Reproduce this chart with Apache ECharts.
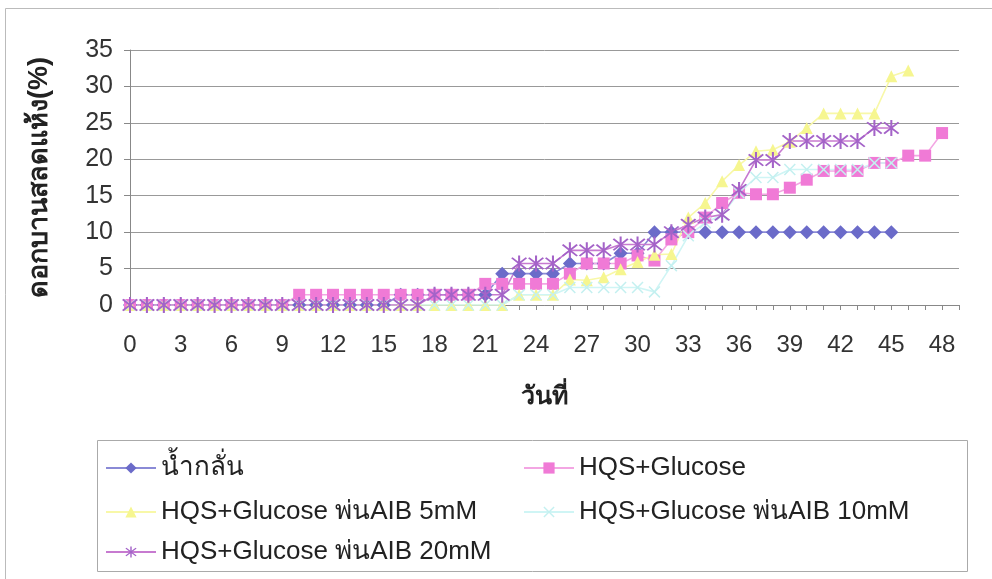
<!DOCTYPE html>
<html><head><meta charset="utf-8">
<script src="https://cdn.jsdelivr.net/npm/echarts@6/dist/echarts.min.js"></script>
<style>html,body{margin:0;padding:0;background:#fff}#c{width:992px;height:579px}</style>
</head><body><div id="c"></div>
<script>
const days = Array.from({length: 50}, (_, i) => String(i));
const xTickLabels = ['0','3','6','9','12','15','18','21','24','27','30','33','36','39','42','45','48'];
const seriesNames = ['น้ำกลั่น', 'HQS+Glucose', 'HQS+Glucose พ่นAIB 5mM', 'HQS+Glucose พ่นAIB 10mM', 'HQS+Glucose พ่นAIB 20mM'];
// values by day 0..49 (null = no data)
const water = [0,0,0,0,0,0,0,0,0,0, 0,0,0,0,0,0,1.4,1.4,1.4,1.4, 1.4,1.4,4.3,4.3,4.3,4.3,5.7,5.7,5.7,7.1, 7.1,10,10,10,10,10,10,10,10,10, 10,10,10,10,10,10,null,null,null,null];
const hqs = [0,0,0,0,0,0,0,0,0,0, 1.4,1.4,1.4,1.4,1.4,1.4,1.4,1.4,1.4,1.4, 1.4,2.9,2.9,2.9,2.9,2.9,4.3,5.7,5.7,5.7, 6.8,6.1,9.0,10,12,14,15.4,15.2,15.2,16.1, 17.2,18.4,18.4,18.4,19.5,19.5,20.5,20.5,23.6,null];
const aib5 = [0,0,0,0,0,0,0,0,0,0, 0,0,0,0,0,0,0,0,0,0, 0,0,0,1.4,1.4,1.4,3.5,3.4,3.8,4.9, 5.9,6.9,7.0,12.0,14.0,17.0,19.2,21.1,21.3,22.4, 24.3,26.3,26.3,26.3,26.3,31.4,32.2,null,null,null];
const aib10 = [0,0,0,0,0,0,0,0,0,0, 0,0,0,0,0,0,0,0,0,0, 0,0,0,1.4,1.4,1.4,2.4,2.4,2.4,2.4, 2.4,1.8,5.4,9.5,11.3,12.4,15.4,17.5,17.5,18.6, 18.6,18.6,18.6,18.6,19.5,19.5,null,null,null,null];
const aib20 = [0,0,0,0,0,0,0,0,0,0, 0,0,0,0,0,0,0,0,1.4,1.4, 1.4,1.4,1.4,5.7,5.7,5.7,7.5,7.5,7.5,8.3, 8.3,8.3,10,11,12,12.4,15.8,19.9,19.9,22.5, 22.5,22.5,22.5,22.5,24.3,24.3,null,null,null,null];
const yTitle = 'ดอกบานสลดแห้ง(%)';
const xTitle = 'วันที่';

const FONT = "'Liberation Sans', Arial, 'DejaVu Sans', 'Noto Sans', sans-serif";
const asterisk = 'path://M-1,-10L1,-10L1,10L-1,10Z M-7.8,-6.4L-6.4,-7.8L7.8,6.4L6.4,7.8Z M6.4,-7.8L7.8,-6.4L-6.4,7.8L-7.8,6.4Z';
const xmark = 'path://M-7.8,-6.4L-6.4,-7.8L7.8,6.4L6.4,7.8Z M6.4,-7.8L7.8,-6.4L-6.4,7.8L-7.8,6.4Z';

const styles = [
  {color:'#6B6BC9', line:'#8A8AD6', symbol:'diamond', size:14},
  {color:'#F07AD6', line:'#F3A6E3', symbol:'rect', size:12},
  {color:'#F6F690', line:'#F8F8A8', symbol:'triangle', size:12},
  {color:'#C4F0F0', line:'#CFF5F5', symbol:xmark, size:12},
  {color:'#A463C8', line:'#C77AD0', symbol:asterisk, size:16}
];
const dataArr = [water, hqs, aib5, aib10, aib20];

const chart = echarts.init(document.getElementById('c'));
const series = seriesNames.map((n, k) => ({
  name: n, type: 'line', data: dataArr[k],
  symbol: styles[k].symbol, symbolSize: styles[k].size, showAllSymbol: true,
  itemStyle: {color: styles[k].color},
  lineStyle: {color: styles[k].line, width: 1.6},
  connectNulls: false, animation: false
}));

const legendPos = [[100,450],[518,450],[100,494],[518,494],[100,534]];
chart.setOption({
  animation: false,
  backgroundColor: '#fff',
  grid: {left: 130, right: 33, top: 50, bottom: 274, containLabel: false},
  xAxis: {
    type: 'category', data: days, boundaryGap: false,
    name: xTitle, nameLocation: 'middle', nameGap: 80,
    nameTextStyle: {fontFamily: FONT, fontSize: 25, fontWeight: 'bold', color: '#222'},
    axisLine: {lineStyle: {color: '#888', width: 1}},
    axisTick: {show: true, interval: 0, length: 5, lineStyle: {color: '#888'}},
    axisLabel: {fontFamily: FONT, fontSize: 24, color: '#333', margin: 28,
      interval: (i, v) => xTickLabels.indexOf(v) >= 0},
    splitLine: {show: false}
  },
  yAxis: {
    type: 'value', min: 0, max: 35, interval: 5,
    name: yTitle, nameLocation: 'middle', nameGap: 77, nameRotate: 90,
    nameTextStyle: {fontFamily: FONT, fontSize: 27, fontWeight: 'bold', color: '#222'},
    axisLine: {show: true, lineStyle: {color: '#888'}},
    axisTick: {show: true, length: 6, lineStyle: {color: '#888'}},
    axisLabel: {fontFamily: FONT, fontSize: 25, color: '#333', margin: 17},
    splitLine: {show: true, lineStyle: {color: '#999', width: 1}}
  },
  legend: seriesNames.map((n, k) => ({
    data: [n], left: legendPos[k][0], top: legendPos[k][1], orient: 'horizontal',
    itemWidth: 50, itemHeight: 14, itemGap: 6,
    textStyle: {fontFamily: FONT, fontSize: 26, color: '#222'},
    selectedMode: false
  })),
  graphic: [
    {type: 'rect', shape: {x: 5.5, y: 8.5, width: 1000, height: 600}, style: {fill: 'none', stroke: '#bbb', lineWidth: 1}, silent: true, z: -10},
    {type: 'rect', shape: {x: 97.5, y: 440.5, width: 870, height: 131}, style: {fill: 'none', stroke: '#aaa', lineWidth: 1}, silent: true, z: -10}
  ],
  series: series
});
</script></body></html>
